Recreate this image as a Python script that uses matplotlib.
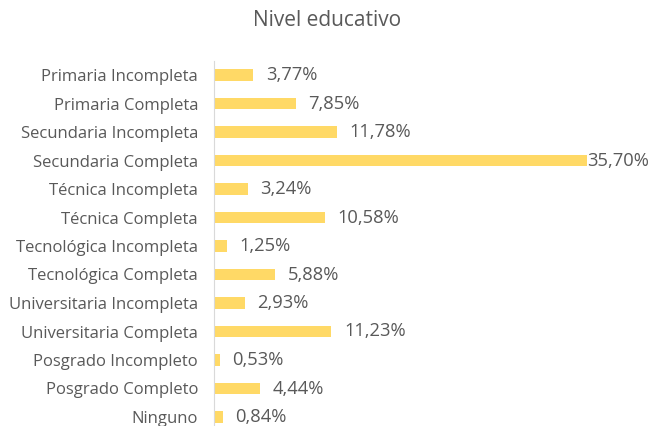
import matplotlib
matplotlib.use("Agg")
import matplotlib.pyplot as plt

# data
categories = [
    "Primaria Incompleta", "Primaria Completa", "Secundaria Incompleta",
    "Secundaria Completa", "Técnica Incompleta", "Técnica Completa",
    "Tecnológica Incompleta", "Tecnológica Completa", "Universitaria Incompleta",
    "Universitaria Completa", "Posgrado Incompleto", "Posgrado Completo", "Ninguno",
]
values = [3.77, 7.85, 11.78, 35.70, 3.24, 10.58, 1.25, 5.88, 2.93, 11.23, 0.53, 4.44, 0.84]

plt.rcParams['font.family'] = ['Open Sans', 'DejaVu Sans']
text_color = '#595959'
bar_color = '#FFD966'

fig = plt.figure(figsize=(6.52, 4.26), dpi=100)
ax = fig.add_axes([214 / 652, -5.25 / 426, 373 / 652, 370.5 / 426])

pos = list(range(len(categories)))
ax.barh(pos, values, height=0.39, color=bar_color)
ax.set_ylim(len(categories) - 0.5, -0.5)
ax.set_xlim(0, 35.7)

ax.set_yticks(pos)
ax.set_yticklabels(categories, fontsize=12, color=text_color)
ax.tick_params(axis='y', length=0, pad=11.5)
ax.set_xticks([])

for s in ['top', 'right', 'bottom']:
    ax.spines[s].set_visible(False)
ax.spines['left'].set_color('#D9D9D9')

vmax = max(values)
for p, v in zip(pos, values):
    label = f"{v:.2f}%".replace('.', ',')
    x = v + 1.2 if v < vmax else v
    ax.text(x, p, label, va='center', ha='left', fontsize=13.2, color=text_color,
            clip_on=False)

fig.text(327 / 652, 1 - 20 / 426, "Nivel educativo", ha='center', va='center',
         fontsize=15, color=text_color)

fig.savefig("out.png", dpi=100)
